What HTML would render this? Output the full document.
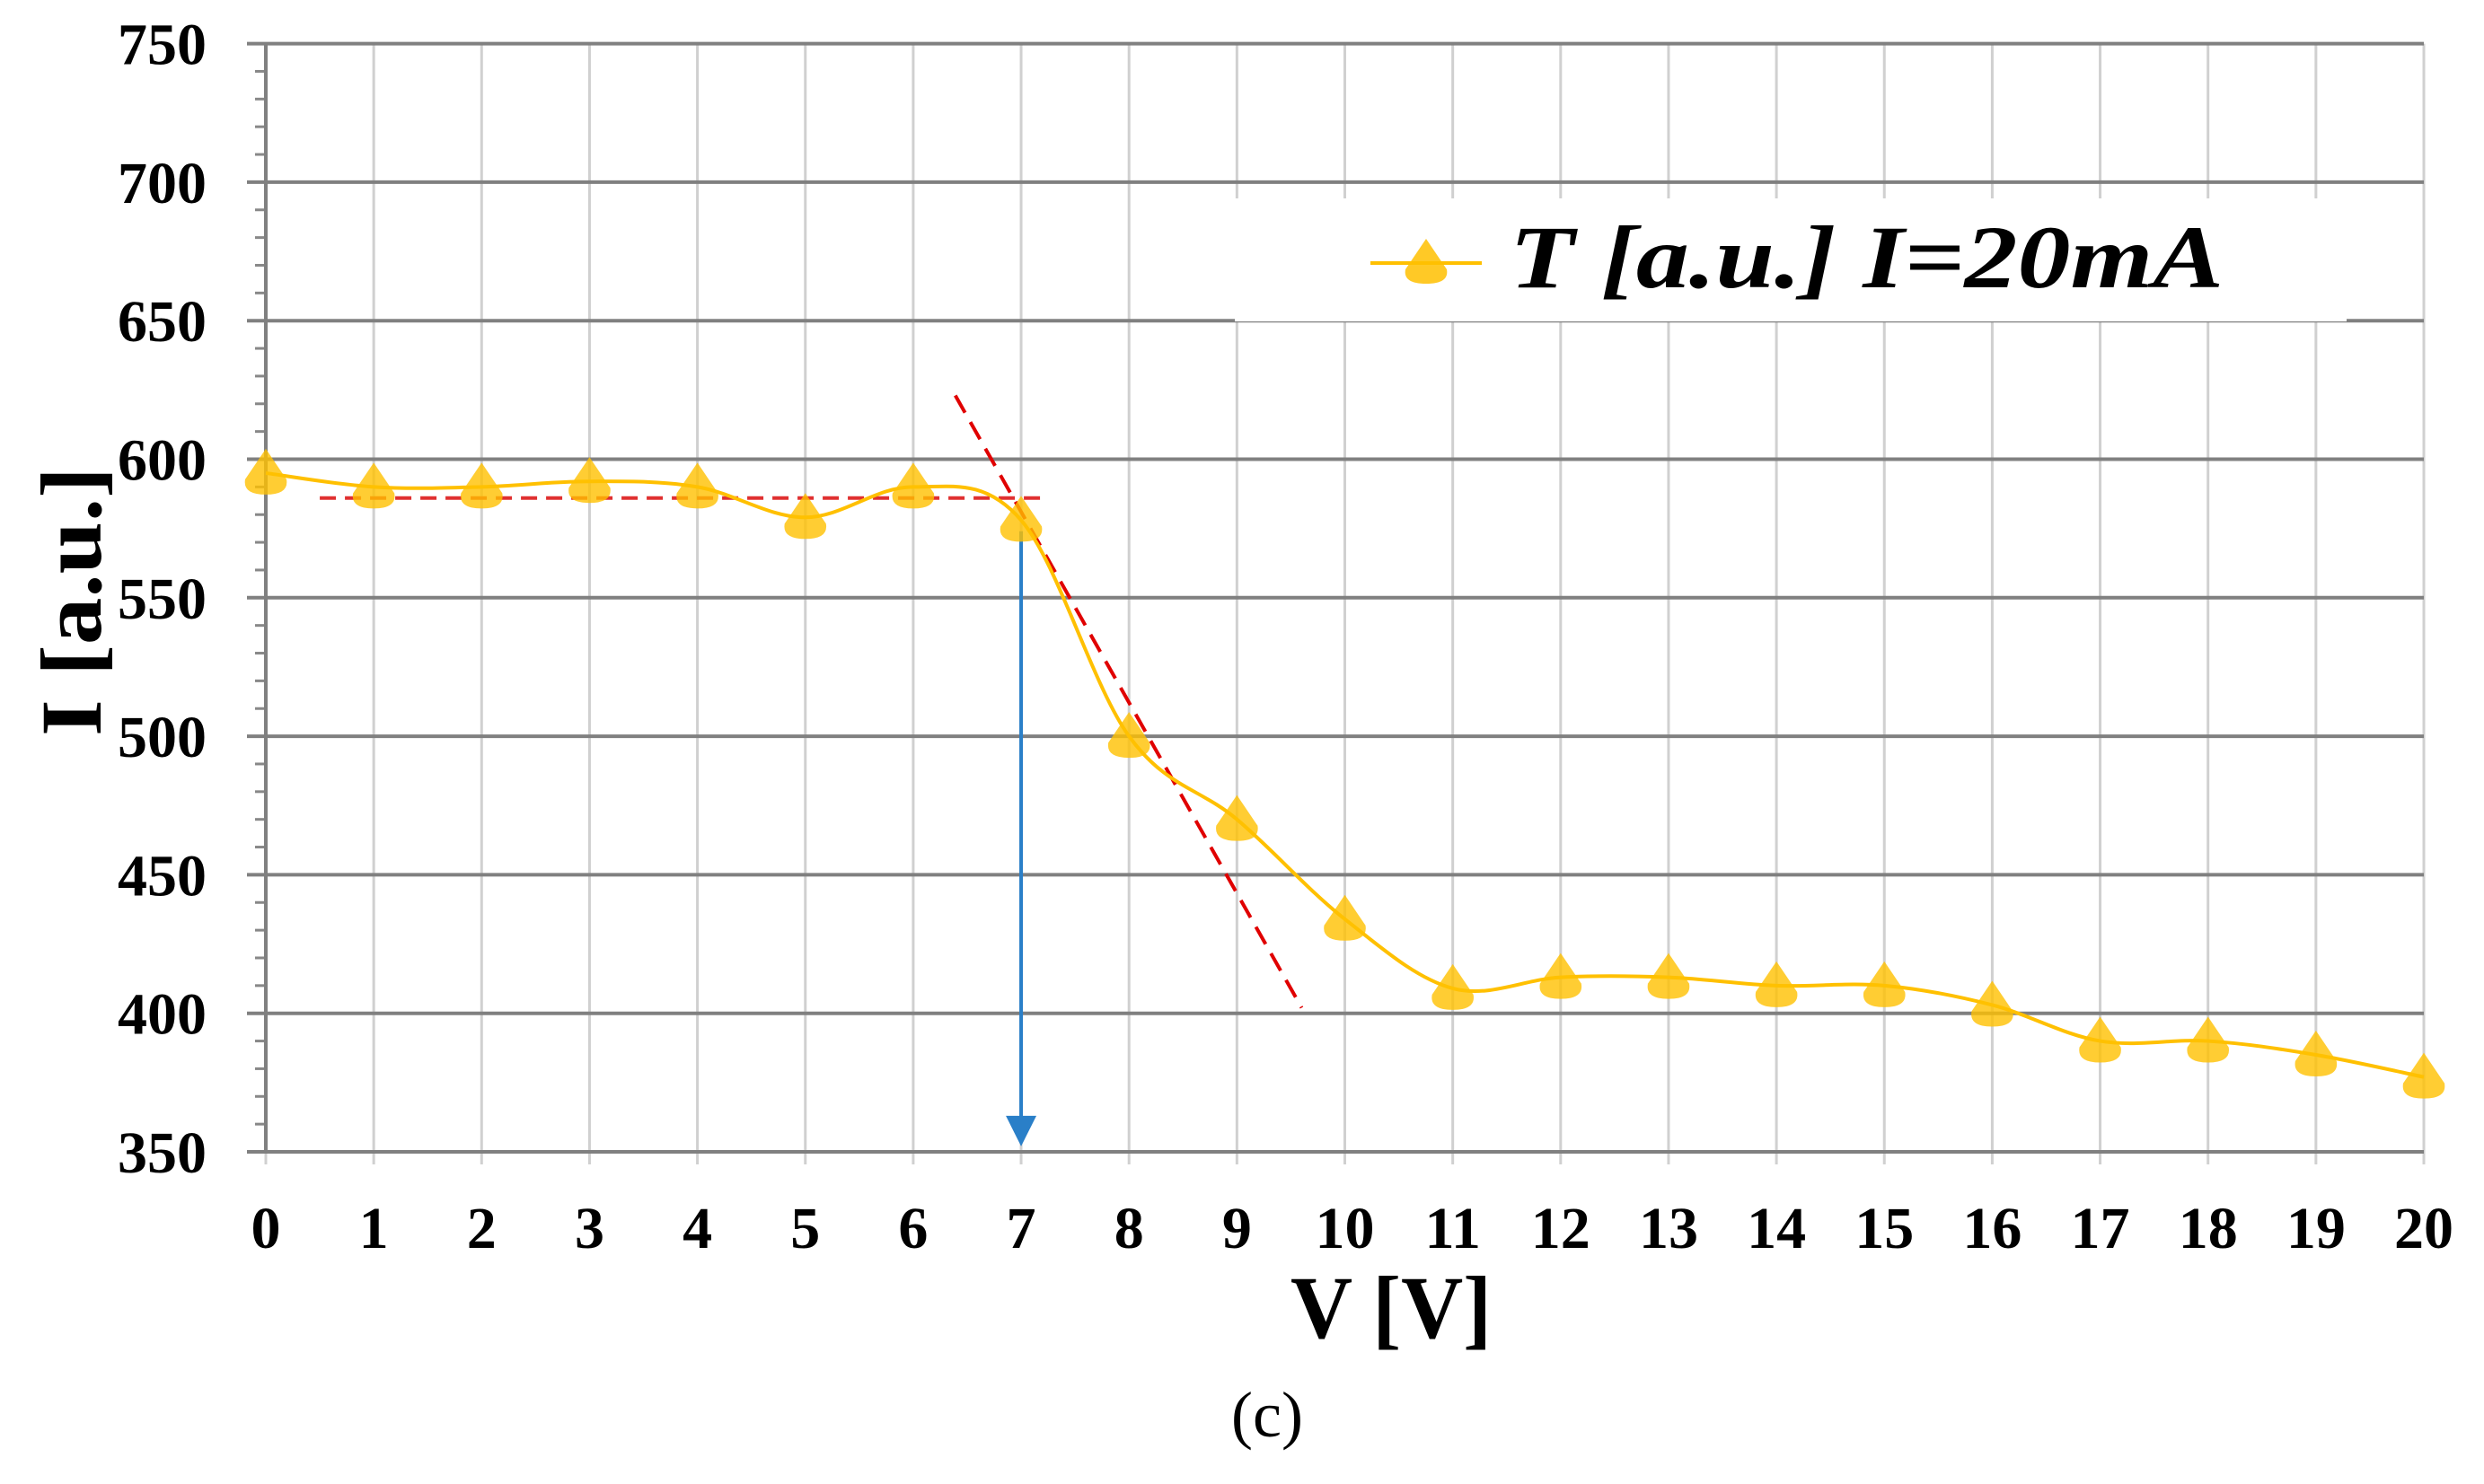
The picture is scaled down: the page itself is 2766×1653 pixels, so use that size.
<!DOCTYPE html>
<html><head><meta charset="utf-8"><style>
html,body{margin:0;padding:0;background:#fff}
svg{display:block}
svg text{font-family:"Liberation Serif","Times New Roman",serif}
</style></head><body>
<svg id="chart" width="2766" height="1653" viewBox="0 0 2766 1653" xmlns="http://www.w3.org/2000/svg" font-family="Liberation Serif, serif">
<g id="grid"></g>
<rect x="1375" y="221" width="1238" height="137" fill="#fff"/>
<g id="axes"></g>
<g id="annot"></g>
<g id="series"></g>
<g>
<line x1="1526" y1="293" x2="1650" y2="293" stroke="#FFC000" stroke-width="4"/>
<path d="M1588,266 L1611,300 Q1614,316 1588,316 Q1562,316 1565,300 Z" fill="#FFC000" fill-opacity="0.85"/>
<text x="1681" y="320" font-family="Liberation Serif, serif" font-size="100" font-weight="bold" font-style="italic" textLength="795" lengthAdjust="spacingAndGlyphs">T [a.u.] I=20mA</text>
</g>
<text x="1549" y="1490" font-family="Liberation Serif, serif" font-size="100" font-weight="bold" text-anchor="middle" textLength="224" lengthAdjust="spacingAndGlyphs">V [V]</text>
<text transform="translate(112,670) rotate(-90)" font-family="Liberation Serif, serif" font-size="96" font-weight="bold" text-anchor="middle" textLength="300" lengthAdjust="spacingAndGlyphs">I [a.u.]</text>
<text x="1411" y="1600" font-family="Liberation Serif, serif" font-size="72" text-anchor="middle">(c)</text>
</svg>
<script>
const xCats = [0,1,2,3,4,5,6,7,8,9,10,11,12,13,14,15,16,17,18,19,20];
const tValues = [595,590,590,592,590,579,590,578,500,470,434,409,413,413,410,410,403,390,390,385,377];
const yTicks = [350,400,450,500,550,600,650,700,750];
const flatLine = [[0.5,586],[7.2,586]];
const slopeLine = [[6.39,623],[9.6,402]];
const arrowLine = [[7,574],[7,352]];

const X = v => 296 + v*120.15;
const Y = v => 1283 - (v-350)*(154.3/50);
const NS = 'http://www.w3.org/2000/svg';
function mk(tag, attrs, parent){const e=document.createElementNS(NS,tag);for(const k in attrs)e.setAttribute(k,attrs[k]);parent.appendChild(e);return e;}
const grid=document.getElementById('grid'), axes=document.getElementById('axes'), annot=document.getElementById('annot'), series=document.getElementById('series');
const FF='Liberation Serif, serif';

xCats.forEach(c=>{
  const l=mk('line',{x1:X(c),x2:X(c),y1:Y(750),y2:Y(350)+14,stroke:'#d0d0d0','stroke-width':3},grid);
  
  
  const t=mk('text',{x:X(c),y:1390,'font-family':FF,'font-size':66,'font-weight':'bold','text-anchor':'middle'},axes);
  t.textContent=c;
  
  
});
for(let v=350;v<=750;v+=10){
  if(v%50){const m=mk('line',{x1:284,x2:296,y1:Y(v),y2:Y(v),stroke:'#888','stroke-width':3},axes);
  
  }
}
yTicks.forEach(v=>{
  const l=mk('line',{x1:275,x2:X(20),y1:Y(v),y2:Y(v),stroke:'#808080','stroke-width':4},grid);
  
  
  const t=mk('text',{x:230,y:Y(v)+23,'font-family':FF,'font-size':66,'font-weight':'bold','text-anchor':'end'},axes);
  t.textContent=v;
  
  
});
const ya=mk('line',{x1:296,x2:296,y1:Y(750),y2:Y(350),stroke:'#808080','stroke-width':4},axes);



const f=mk('line',{x1:X(flatLine[0][0]),y1:Y(flatLine[0][1]),x2:X(flatLine[1][0]),y2:Y(flatLine[1][1]),stroke:'#e03030','stroke-width':4,'stroke-dasharray':'18 10'},annot);


const s=mk('line',{x1:X(slopeLine[0][0]),y1:Y(slopeLine[0][1]),x2:X(slopeLine[1][0]),y2:Y(slopeLine[1][1]),stroke:'#e00000','stroke-width':4,'stroke-dasharray':'22 12'},annot);


const a=mk('line',{x1:X(arrowLine[0][0]),y1:Y(arrowLine[0][1]),x2:X(arrowLine[1][0]),y2:Y(arrowLine[1][1])-30,stroke:'#2a7fc8','stroke-width':4},annot);


const ax=X(arrowLine[1][0]), ay=Y(arrowLine[1][1]);
const ah=mk('path',{d:`M${ax-17},${ay-34} L${ax+17},${ay-34} L${ax},${ay} Z`,fill:'#2a7fc8'},annot);



const pts=xCats.map((c,i)=>[X(c),Y(tValues[i])]);
let d=`M${pts[0][0]},${pts[0][1]}`;
for(let i=0;i<pts.length-1;i++){
  const p0=pts[Math.max(0,i-1)],p1=pts[i],p2=pts[i+1],p3=pts[Math.min(pts.length-1,i+2)];
  const k=0.17;
  d+=` C${p1[0]+(p2[0]-p0[0])*k},${p1[1]+(p2[1]-p0[1])*k} ${p2[0]-(p3[0]-p1[0])*k},${p2[1]-(p3[1]-p1[1])*k} ${p2[0]},${p2[1]}`;
}
const cl=mk('path',{d:d,fill:'none',stroke:'#FFC000','stroke-width':4},series);


pts.forEach(p=>{
  const [x,y]=p;
  const m=mk('path',{d:`M${x},${y-27} L${x+23},${y+7} Q${x+26},${y+24} ${x},${y+24} Q${x-26},${y+24} ${x-23},${y+7} Z`,fill:'#FFC000','fill-opacity':0.8},series);
  
  
});
</script>
</body></html>
